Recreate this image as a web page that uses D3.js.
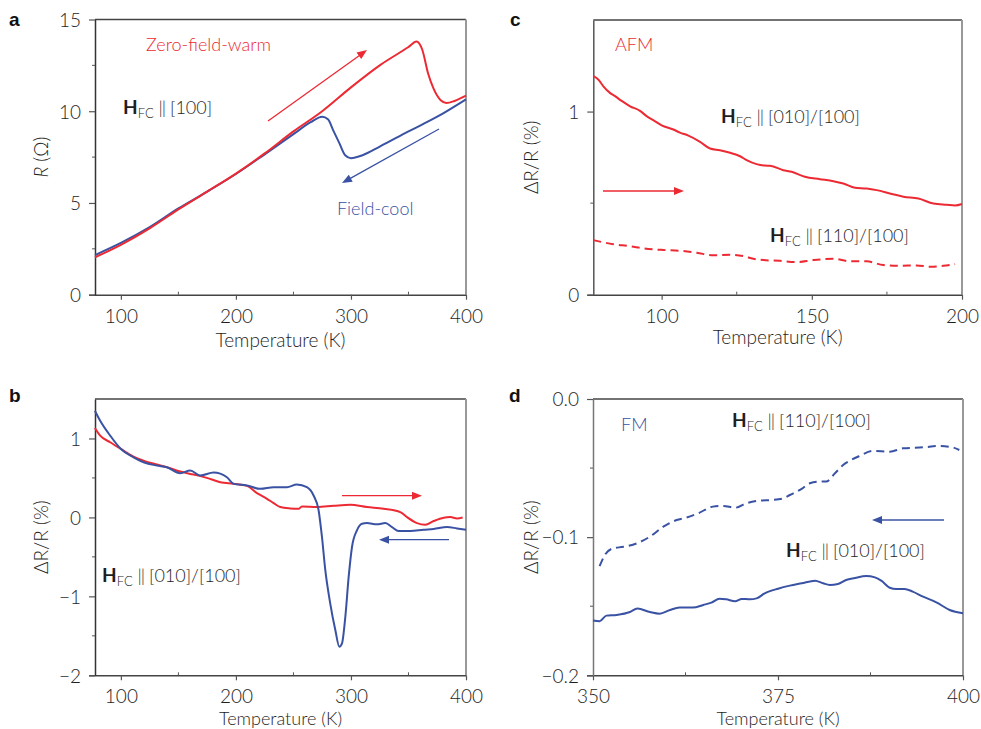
<!DOCTYPE html>
<html lang="en">
<head>
<meta charset="utf-8">
<title>Field-cool resistance</title>
<script src="https://d3js.org/d3.v7.min.js"></script>
<style>
  body { margin: 0; background: #fff; }
  svg text { font-family: "Lato", "Open Sans", sans-serif; font-weight: 300; fill: #1e1e1e; }
</style>
</head>
<body>
<div id="chart"></div>
<script>
var width = 981, height = 729;
var red = "#ec2a33", blue = "#3a52a3";

// panel a : R vs T
var aWarmT = [77.5,100,125,150,175,200,225,250,275,300,325,350,357,362,367,372,378,383,390,400];
var aWarmR = [2.04,2.72,3.62,4.65,5.62,6.6,7.7,8.9,10.0,11.3,12.5,13.5,13.8,13.35,12.07,11.2,10.6,10.45,10.56,10.85];
var aCoolT = [77.5,100,125,150,175,200,225,250,265,275,280,285,290,295,300,310,325,350,375,400];
var aCoolR = [2.16,2.82,3.68,4.7,5.62,6.58,7.65,8.75,9.4,9.7,9.56,8.9,8.25,7.6,7.44,7.6,8.07,8.9,9.7,10.65];

// panel b : dR/R, [010]/[100]
var bWarmT = [77.4,82,90.7,100,111,119.7,131.3,140,151.6,163.2,174.8,186.4,198,209.6,218.3,227,232.8,238.6,247.2,254.5,257.4,270.4,284.9,299.4,313.9,328.4,342.9,348.7,357.4,364.6,371.9,380.6,386.4,392.2,397.1];
var bWarmV = [1.133,1.036,0.952,0.867,0.77,0.72,0.67,0.636,0.581,0.543,0.501,0.446,0.425,0.4,0.307,0.236,0.181,0.131,0.114,0.109,0.139,0.131,0.147,0.16,0.131,0.109,0.067,0.004,-0.072,-0.093,-0.046,-0.004,0.004,-0.013,0];
var bCoolT = [77.4,82,90.7,100,111,119.7,131.3,140,151.6,160.3,169,180.6,192.2,198,209.6,221.2,232.8,244.3,253,261.7,267.5,271.9,274.8,277.7,282,286.4,289.9,292.2,295.1,298,300.9,305.2,309.6,313.9,322.6,329.9,335.7,341.4,351.6,363.2,371.9,383.5,392.2,400];
var bCoolV = [1.352,1.225,1.036,0.867,0.762,0.699,0.657,0.636,0.56,0.594,0.531,0.568,0.509,0.425,0.404,0.362,0.383,0.383,0.417,0.383,0.278,0.088,-0.248,-0.669,-1.091,-1.427,-1.638,-1.596,-1.259,-0.754,-0.375,-0.164,-0.08,-0.072,-0.088,-0.072,-0.122,-0.173,-0.173,-0.156,-0.147,-0.122,-0.139,-0.156];

// panel c : AFM
var c010T = [77.25,78.9,80.6,82.8,84.5,86.7,89.5,92.8,95,97.2,100,103.9,106.1,108.9,112.8,116.1,119.4,122.8,126.1,128.3,131.6,134.4,136.1,140.5,143.3,147.7,152.7,157.2,160.5,164.4,168.3,171.6,176,180.5,185.5,190.5,194.9,197.7,200];
var c010V = [1.193,1.175,1.138,1.102,1.084,1.058,1.029,1.004,0.975,0.953,0.925,0.902,0.885,0.869,0.835,0.798,0.789,0.775,0.756,0.735,0.713,0.705,0.704,0.68,0.671,0.644,0.631,0.62,0.607,0.584,0.58,0.571,0.553,0.535,0.525,0.498,0.491,0.487,0.495];
var c110T = [77.25,83.9,89.5,93.9,100.6,106.1,111.7,117.2,122.8,127.2,130.5,133.9,139.4,144.9,150.5,157.2,162.7,168.3,173.8,179.4,184.9,189.3,193.8,197.7];
var c110V = [0.298,0.276,0.265,0.253,0.244,0.24,0.229,0.215,0.218,0.211,0.196,0.189,0.185,0.178,0.189,0.196,0.182,0.182,0.162,0.158,0.16,0.153,0.158,0.167];

// panel d : FM
var d110T = [350.9,351.6,352.7,354.1,355.9,357.7,359.5,361.3,362.6,364.2,366.2,367.6,369.2,370.7,372.5,374.3,375.7,376.6,378.2,379.3,380.6,381.5,382.7,383.8,384.9,386,387.8,390.1,391.9,394.6,396.8,398.6,399.5];
var d110V = [-0.1209,-0.1129,-0.1081,-0.107,-0.1045,-0.0996,-0.0924,-0.0876,-0.0859,-0.0828,-0.0779,-0.0774,-0.0787,-0.0755,-0.0736,-0.0731,-0.0719,-0.0695,-0.0651,-0.061,-0.0598,-0.0598,-0.0538,-0.0478,-0.0441,-0.0413,-0.0376,-0.0381,-0.0357,-0.035,-0.034,-0.035,-0.0369];
var d010T = [350,350.9,351.8,353.2,355,356,357.7,359,360.4,361.7,363.5,364.9,366,367.1,368,369.2,370.1,371.2,372.1,373.2,375,376.6,378.2,380,381.1,382,383.1,384.2,385.4,386.9,388.1,389,390.1,391,392.1,393.2,394.6,396.4,398.2,400];
var d010V = [-0.1604,-0.1609,-0.1568,-0.1563,-0.1542,-0.1517,-0.1542,-0.1554,-0.1527,-0.151,-0.151,-0.1491,-0.1474,-0.1445,-0.145,-0.1464,-0.1447,-0.145,-0.1443,-0.1407,-0.1373,-0.1351,-0.1334,-0.1315,-0.1334,-0.1346,-0.1339,-0.131,-0.1296,-0.1281,-0.1291,-0.1317,-0.1366,-0.1375,-0.1375,-0.1394,-0.1431,-0.1472,-0.1527,-0.1551];

// ticks
var aXTicks = [100,200,300,400], aXMinor = [150,250,350];
var aYTicks = [0,5,10,15], aYMinor = [2.5,7.5,12.5];
var bYTicks = [-2,-1,0,1], bYMinor = [-1.5,-0.5,0.5];
var cXTicks = [100,150,200], cXMinor = [125,175];
var cYTicks = [0,1], cYMinor = [0.5];
var dXTicks = [350,375,400], dXMinor = [362.5,387.5];
var dYTicks = [-0.2,-0.1,0.0], dYMinor = [-0.15,-0.05];

var svg = d3.select("#chart").append("svg")
  .attr("width", width).attr("height", height);

function zip(xs, ys) { return xs.map(function(x, i) { return [x, ys[i]]; }); }

function fmtTick(d, decimals) {
  var s = decimals ? d.toFixed(decimals) : String(d);
  return s.replace("-", "\u2212");
}

function drawPanel(p) {
  var g = svg.append("g");
  var x = d3.scaleLinear().domain(p.xDomain).range([p.left, p.right]);
  var y = d3.scaleLinear().domain(p.yDomain).range([p.bottom, p.top]);

  // frame
  g.append("line").attr("x1", p.left).attr("x2", p.right).attr("y1", p.top).attr("y2", p.top)
    .attr("stroke", "#444").attr("stroke-width", 1.3);
  g.append("line").attr("x1", p.right).attr("x2", p.right).attr("y1", p.top).attr("y2", p.bottom)
    .attr("stroke", "#999").attr("stroke-width", 2);

  var xAxis = g.append("g").attr("transform", "translate(0," + p.bottom + ")")
    .call(d3.axisBottom(x).tickValues(p.xTicks).tickSize(5).tickSizeOuter(0).tickFormat(function(d) { return fmtTick(d); }));
  xAxis.select(".domain").attr("stroke", "#444").attr("stroke-width", 1.5)
    .attr("d", "M" + (p.left - 6) + ",0.5H" + p.right);
  xAxis.selectAll(".tick line").attr("stroke", "#555").attr("stroke-width", 1.2);
  xAxis.selectAll(".tick text").attr("dy", "1.05em").style("font-size", "19px").style("fill", "#1e1e1e");

  var yAxis = g.append("g").attr("transform", "translate(" + p.left + ",0)")
    .call(d3.axisLeft(y).tickValues(p.yTicks).tickSize(6).tickSizeOuter(0).tickPadding(8).tickFormat(function(d) { return fmtTick(d, p.yDec); }));
  yAxis.select(".domain").attr("stroke", p.leftColor || "#333").attr("stroke-width", 1.5);
  yAxis.selectAll(".tick line").attr("stroke", "#555").attr("stroke-width", 1.2);
  yAxis.selectAll(".tick text").attr("dy", "0.36em").style("font-size", "19px").style("fill", "#1e1e1e");

  // minor ticks
  g.selectAll(".xminor").data(p.xMinor).enter().append("line")
    .attr("x1", function(d) { return x(d); }).attr("x2", function(d) { return x(d); })
    .attr("y1", p.bottom).attr("y2", p.bottom - 3)
    .attr("stroke", "#555").attr("stroke-width", 1);
  g.selectAll(".yminor").data(p.yMinor).enter().append("line")
    .attr("x1", p.left - 3).attr("x2", p.left)
    .attr("y1", function(d) { return y(d); }).attr("y2", function(d) { return y(d); })
    .attr("stroke", "#555").attr("stroke-width", 1);

  // axis titles
  g.append("text").attr("x", (p.left + p.right) / 2).attr("y", p.bottom + p.xTitleDy)
    .attr("text-anchor", "middle").style("font-size", p.xTitleSize || "19px").text("Temperature (K)");
  var yt = g.append("text")
    .attr("transform", "translate(" + p.yTitleX + "," + ((p.top + p.bottom) / 2) + ") rotate(-90)")
    .attr("text-anchor", "middle").style("font-size", "19px");
  p.yTitle(yt);

  // panel letter
  g.append("text").attr("x", p.letterX).attr("y", p.letterY)
    .style("font-family", "'Liberation Sans', Arial, sans-serif")
    .style("font-weight", "bold").style("font-size", "19px").style("fill", "#111").text(p.letter);

  var line = d3.line().x(function(d) { return x(d[0]); }).y(function(d) { return y(d[1]); })
    .curve(d3.curveMonotoneX);
  p.series.forEach(function(s) {
    g.append("path").datum(zip(s.x, s.y))
      .attr("fill", "none").attr("stroke", s.color).attr("stroke-width", 2)
      .attr("stroke-dasharray", s.dash ? "8,5" : null)
      .attr("d", line);
  });
  return g;
}

function dRtitle(t) {
  t.text("\u0394R/R (%)");
}

function hfc(x, y, rest) {
  var t = svg.append("text").attr("x", x).attr("y", y).style("font-size", "18px");
  t.append("tspan").style("font-weight", "bold").style("font-size", "19px").text("H");
  t.append("tspan").attr("dy", 4).style("font-size", "13px").text("FC");
  t.append("tspan").attr("dy", -4).text(" ");
  t.append("tspan").style("letter-spacing", "-1px").text("||");
  t.append("tspan").text(" " + rest);
}

function arrow(x1, y1, x2, y2, color) {
  var ang = Math.atan2(y2 - y1, x2 - x1), L = 10, W = 4;
  svg.append("line").attr("x1", x1).attr("y1", y1)
    .attr("x2", x2 - Math.cos(ang) * (L - 2)).attr("y2", y2 - Math.sin(ang) * (L - 2))
    .attr("stroke", color).attr("stroke-width", 1.3);
  var bx = x2 - Math.cos(ang) * L, by = y2 - Math.sin(ang) * L;
  var px = -Math.sin(ang) * W, py = Math.cos(ang) * W;
  svg.append("path")
    .attr("d", "M" + x2 + "," + y2 + "L" + (bx + px) + "," + (by + py) + "L" + (bx - px) + "," + (by - py) + "Z")
    .attr("fill", color);
}

// a
drawPanel({
  left: 95, right: 466, top: 19.5, bottom: 294.7,
  xDomain: [77.5, 400], yDomain: [0, 15],
  xTicks: aXTicks, xMinor: aXMinor, yTicks: aYTicks, yMinor: aYMinor,
  yTitleX: 48, xTitleDy: 52, letter: "a", letterX: 9, letterY: 26,
  yTitle: function(t) {
    t.append("tspan").style("font-style", "italic").text("R");
    t.append("tspan").text(" (\u03A9)");
  },
  series: [
    {x: aCoolT, y: aCoolR, color: blue},
    {x: aWarmT, y: aWarmR, color: red}
  ]
});
// c
drawPanel({
  left: 593.3, right: 962, top: 20, bottom: 294.7,
  xDomain: [77.25, 200], yDomain: [0, 1.5],
  xTicks: cXTicks, xMinor: cXMinor, yTicks: cYTicks, yMinor: cYMinor,
  yTitleX: 538, xTitleDy: 49, letter: "c", letterX: 510, letterY: 26, leftColor: "#555",
  yTitle: dRtitle,
  series: [
    {x: c010T, y: c010V, color: red},
    {x: c110T, y: c110V, color: red, dash: true}
  ]
});
// b
drawPanel({
  left: 95, right: 466, top: 399, bottom: 675.3,
  xDomain: [77.5, 400], yDomain: [-2, 1.5],
  xTicks: aXTicks, xMinor: aXMinor, yTicks: bYTicks, yMinor: bYMinor,
  yTitleX: 48, xTitleDy: 50, xTitleSize: "18px", letter: "b", letterX: 9, letterY: 402,
  yTitle: dRtitle,
  series: [
    {x: bWarmT, y: bWarmV, color: red},
    {x: bCoolT, y: bCoolV, color: blue}
  ]
});
// d
drawPanel({
  left: 593, right: 963, top: 399, bottom: 675.3,
  xDomain: [350, 400], yDomain: [-0.2, 0],
  xTicks: dXTicks, xMinor: dXMinor, yTicks: dYTicks, yMinor: dYMinor, yDec: 1,
  yTitleX: 538, xTitleDy: 50, xTitleSize: "18px", letter: "d", letterX: 509, letterY: 402, leftColor: "#777",
  yTitle: dRtitle,
  series: [
    {x: d110T, y: d110V, color: blue, dash: true},
    {x: d010T, y: d010V, color: blue}
  ]
});

// annotations
svg.append("text").attr("x", 146).attr("y", 51).style("font-size", "18px").style("fill", red).text("Zero-field-warm");
svg.append("text").attr("x", 337).attr("y", 215).style("font-size", "18px").style("fill", blue).text("Field-cool");
hfc(123, 114, "[100]");
arrow(268, 121, 367, 50, red);
arrow(439, 129, 342, 183, blue);

svg.append("text").attr("x", 615).attr("y", 51).style("font-size", "18px").style("fill", red).text("AFM");
hfc(721, 123, "[010]/[100]");
hfc(770, 242, "[110]/[100]");
arrow(603, 191, 684, 191, red);

hfc(102, 582, "[010]/[100]");
arrow(342, 495.7, 422, 495.7, red);
arrow(449, 539.7, 379, 539.7, blue);

svg.append("text").attr("x", 621).attr("y", 431).style("font-size", "18px").style("fill", blue).text("FM");
hfc(732, 427, "[110]/[100]");
hfc(786, 557, "[010]/[100]");
arrow(944, 520, 872, 520, blue);
</script>
</body>
</html>
